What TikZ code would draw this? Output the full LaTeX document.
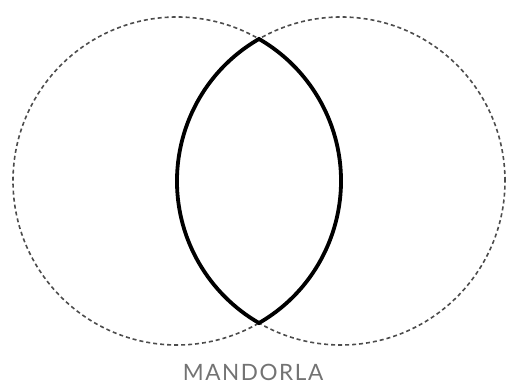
\documentclass[tikz,border=0pt]{standalone}
\usepackage{fontspec}
\setmainfont{Lato}
\begin{document}
\begin{tikzpicture}[x=1pt,y=1pt,
  guide/.style={draw=black!70, line width=1.6pt, dash pattern=on 4pt off 3pt},
  lens/.style={draw=black, line width=3.8pt, line join=miter},
  caption/.style={text=black!55, font=\fontsize{22.5}{23}\selectfont\addfontfeature{LetterSpace=7}, inner sep=0pt}]
\useasboundingbox (0,0) rectangle (507,385);
\coordinate (cl) at (177,204);
\coordinate (cr) at (341,204);
\draw[guide] (cl) circle[radius=164];
\draw[guide] (cr) circle[radius=164];
\coordinate (top) at (259,346.03);
\draw[lens] (top) arc[start angle=120,end angle=240,radius=164] arc[start angle=-60,end angle=60,radius=164] -- cycle;
\node[caption] (cap) at (253,12.5) {MANDORLA};
\end{tikzpicture}
\end{document}
